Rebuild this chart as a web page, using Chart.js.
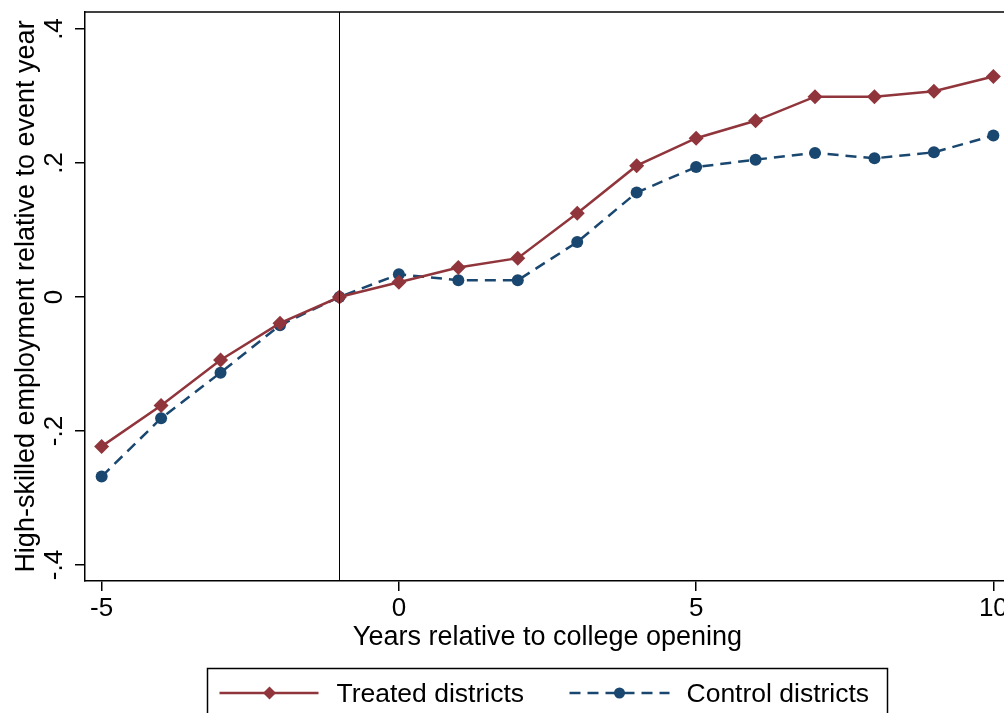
<!DOCTYPE html>
<html>
<head>
<meta charset="utf-8">
<title>High-skilled employment</title>
<script src="https://cdn.jsdelivr.net/npm/chart.js@4.4.1/dist/chart.umd.min.js"></script>
<style>
    html, body { margin: 0; padding: 0; background: #fff; overflow: hidden; }
    #wrap { width: 1004px; height: 713px; overflow: hidden; }
    canvas { display: block; }
</style>
</head>
<body>
<div id="wrap"><canvas id="eventChart" width="1010" height="713"></canvas></div>
<script>
// Values
const years = [-5, -4, -3, -2, -1, 0, 1, 2, 3, 4, 5, 6, 7, 8, 9, 10];
const treated = [-0.223, -0.162, -0.094, -0.039, 0, 0.022, 0.044, 0.058, 0.125, 0.196, 0.237, 0.263, 0.299, 0.299, 0.307, 0.329];
const control = [-0.268, -0.181, -0.113, -0.042, 0, 0.034, 0.025, 0.025, 0.082, 0.156, 0.194, 0.205, 0.215, 0.207, 0.216, 0.241];
const xTicks = [-5, 0, 5, 10];
const yTicks = [-0.4, -0.2, 0, 0.2, 0.4];
const yTickLabels = ['-.4', '-.2', '0', '.2', '.4'];
const eventLine = -1;

const RED = '#90353b';
const NAVY = '#1a476f';
const FONT = '"Liberation Sans", Arial, sans-serif';

// Tick labels, titles, frame, event line and the boxed legend
const stataDecor = {
    id: 'stataDecor',
    afterDraw(chart) {
        const ctx = chart.ctx;
        const area = chart.chartArea;
        const xs = chart.scales.x;
        const ys = chart.scales.y;
        ctx.save();
        ctx.fillStyle = '#000';
        ctx.strokeStyle = '#000';

        // top frame line
        ctx.lineWidth = 1.5;
        ctx.beginPath();
        ctx.moveTo(area.left, area.top);
        ctx.lineTo(area.right, area.top);
        ctx.stroke();

        // vertical line at event year
        const ex = Math.round(xs.getPixelForValue(eventLine)) + 0.5;
        ctx.lineWidth = 1;
        ctx.beginPath();
        ctx.moveTo(ex, area.top);
        ctx.lineTo(ex, area.bottom);
        ctx.stroke();

        // y tick labels, rotated
        ctx.font = '26px ' + FONT;
        ctx.textAlign = 'center';
        ctx.textBaseline = 'alphabetic';
        yTicks.forEach((v, i) => {
            const y = ys.getPixelForValue(v);
            ctx.save();
            ctx.translate(62, y);
            ctx.rotate(-Math.PI / 2);
            ctx.fillText(yTickLabels[i], 0, 0);
            ctx.restore();
        });

        // x tick labels
        xTicks.forEach(v => {
            ctx.fillText(String(v), xs.getPixelForValue(v), 616);
        });

        // titles
        ctx.font = '27px ' + FONT;
        ctx.save();
        ctx.translate(34, (area.top + area.bottom) / 2);
        ctx.rotate(-Math.PI / 2);
        ctx.fillText('High-skilled employment relative to event year', 0, 0);
        ctx.restore();

        const cx = (area.left + area.right) / 2;
        ctx.fillText('Years relative to college opening', cx, 645);

        // legend box
        const boxL = cx - 340, boxT = 668.5;
        ctx.lineWidth = 1.5;
        ctx.strokeRect(boxL, boxT, 680, 80);

        const ly = 693;
        // treated sample
        ctx.strokeStyle = RED;
        ctx.lineWidth = 2.5;
        ctx.beginPath();
        ctx.moveTo(boxL + 12, ly);
        ctx.lineTo(boxL + 111, ly);
        ctx.stroke();
        ctx.fillStyle = RED;
        ctx.beginPath();
        ctx.moveTo(boxL + 62, ly - 6.5);
        ctx.lineTo(boxL + 68.5, ly);
        ctx.lineTo(boxL + 62, ly + 6.5);
        ctx.lineTo(boxL + 55.5, ly);
        ctx.closePath();
        ctx.fill();

        // control sample
        ctx.strokeStyle = NAVY;
        ctx.setLineDash([11, 7]);
        ctx.beginPath();
        ctx.moveTo(boxL + 362, ly);
        ctx.lineTo(boxL + 462, ly);
        ctx.stroke();
        ctx.setLineDash([]);
        ctx.fillStyle = NAVY;
        ctx.beginPath();
        ctx.arc(boxL + 412, ly, 5.5, 0, Math.PI * 2);
        ctx.fill();

        ctx.fillStyle = '#000';
        ctx.textAlign = 'left';
        ctx.font = '26.5px ' + FONT;
        ctx.fillText('Treated districts', boxL + 129, 702);
        ctx.fillText('Control districts', boxL + 479, 702);
        ctx.restore();
    }
};

const ctx = document.getElementById('eventChart');
new Chart(ctx, {
    type: 'line',
    data: {
        datasets: [{
            label: 'Treated districts',
            data: years.map((x, i) => ({ x: x, y: treated[i] })),
            borderColor: RED,
            backgroundColor: RED,
            borderWidth: 2.5,
            pointStyle: 'rectRot',
            pointRadius: 7.5,
            pointBorderWidth: 0,
            tension: 0
        }, {
            label: 'Control districts',
            data: years.map((x, i) => ({ x: x, y: control[i] })),
            borderColor: NAVY,
            backgroundColor: NAVY,
            borderWidth: 2.5,
            borderDash: [11, 7],
            pointStyle: 'circle',
            pointRadius: 6,
            pointBorderWidth: 0,
            tension: 0
        }]
    },
    options: {
        responsive: false,
        animation: false,
        devicePixelRatio: 1,
        layout: { autoPadding: false, padding: { top: 12, left: 0, right: 0, bottom: 0 } },
        plugins: {
            legend: { display: false },
            tooltip: { enabled: false }
        },
        scales: {
            x: {
                type: 'linear',
                min: -5.28,
                max: 10.28,
                afterBuildTicks: s => { s.ticks = xTicks.map(v => ({ value: v })); },
                afterFit: s => { s.height = 132; },
                border: { display: true, color: '#000', width: 1.5 },
                grid: { drawOnChartArea: false, drawTicks: true, tickLength: 10, color: '#000', lineWidth: 1.5 },
                ticks: { display: false }
            },
            y: {
                min: -0.4239,
                max: 0.4254,
                afterBuildTicks: s => { s.ticks = yTicks.map(v => ({ value: v })); },
                afterFit: s => { s.width = 85; },
                border: { display: true, color: '#000', width: 1.5 },
                grid: { drawOnChartArea: false, drawTicks: true, tickLength: 10, color: '#000', lineWidth: 1.5 },
                ticks: { display: false }
            }
        }
    },
    plugins: [stataDecor]
});
</script>
</body>
</html>
